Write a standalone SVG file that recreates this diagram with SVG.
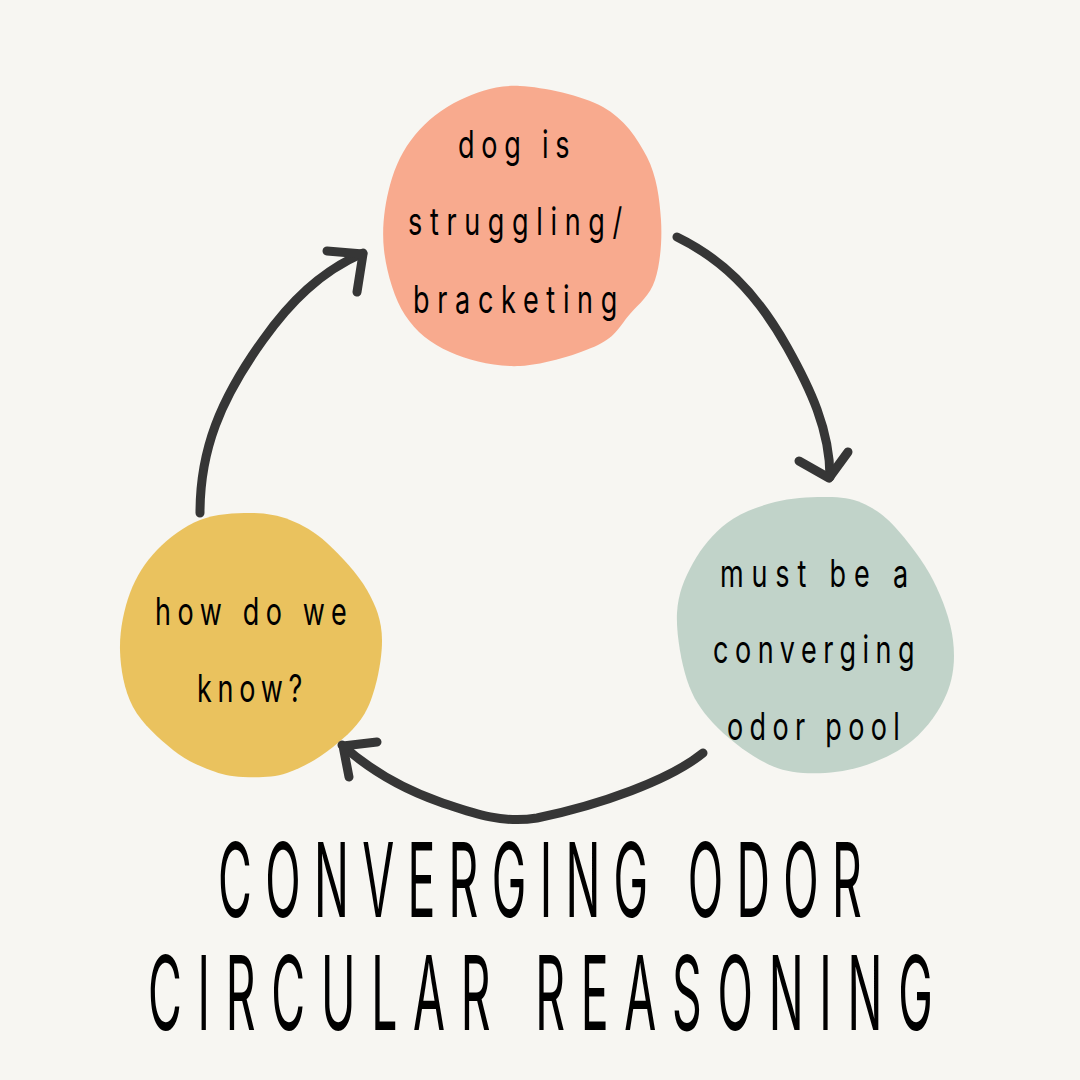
<svg xmlns="http://www.w3.org/2000/svg" width="1080" height="1080" viewBox="0 0 1080 1080">
<style>
.bg{fill:#F7F6F2}
.lbl{font-family:Inter,"Liberation Sans",sans-serif;font-size:30px;font-weight:400;fill:#000}
.title{font-family:Inter,"Liberation Sans",sans-serif;font-size:103px;font-weight:400;fill:#000}
.arr{fill:none;stroke:#363636;stroke-width:9;stroke-linecap:round;stroke-linejoin:round}
</style>
<rect class="bg" x="0" y="0" width="1080" height="1080"/>
<g id="node-top">
<path fill="#F8AA8E" d="M520,86 C543.8,87.2 581.8,95.2 603,107 C624.2,118.8 637.3,138.2 647,157 C656.7,175.8 659.7,199.5 661,220 C662.3,240.5 660.2,264.3 655,280 C649.8,295.7 639.5,303.2 630,314 C620.5,324.8 616.3,336.3 598,345 C579.7,353.7 544.7,364.8 520,366 C495.3,367.2 469.2,360.5 450,352 C430.8,343.5 416,332 405,315 C394,298 386.5,271.7 384,250 C381.5,228.3 384.8,204.2 390,185 C395.2,165.8 403.3,149.2 415,135 C426.7,120.8 442.5,108.2 460,100 C477.5,91.8 496.2,84.8 520,86 Z"/>
<text class="lbl" transform="translate(458,158) scale(0.9,1.25)" textLength="124" lengthAdjust="spacing">dog is</text>
<text class="lbl" transform="translate(408,235) scale(0.9,1.25)" textLength="238" lengthAdjust="spacing">struggling/</text>
<text class="lbl" transform="translate(413,313) scale(0.9,1.25)" textLength="227" lengthAdjust="spacing">bracketing</text>
</g>
<g id="node-right">
<path fill="#C1D3C9" d="M827,497 C841.5,497.2 850.7,498 862,503 C873.3,508 883.2,514.2 895,527 C906.8,539.8 923.3,561.2 933,580 C942.7,598.8 950.7,621.2 953,640 C955.3,658.8 953.7,676.3 947,693 C940.3,709.7 927.5,727.7 913,740 C898.5,752.3 878.3,761.5 860,767 C841.7,772.5 819.7,774.2 803,773 C786.3,771.8 775,768.3 760,760 C745,751.7 725.2,736.3 713,723 C700.8,709.7 693,698.3 687,680 C681,661.7 676,632.5 677,613 C678,593.5 684.7,578 693,563 C701.3,548 713.3,533.2 727,523 C740.7,512.8 758.3,506.3 775,502 C791.7,497.7 812.5,496.8 827,497 Z"/>
<text class="lbl" transform="translate(720,587) scale(0.9,1.25)" textLength="209" lengthAdjust="spacing">must be a</text>
<text class="lbl" transform="translate(713,663) scale(0.9,1.25)" textLength="224" lengthAdjust="spacing">converging</text>
<text class="lbl" transform="translate(727,740) scale(0.9,1.25)" textLength="192" lengthAdjust="spacing">odor pool</text>
</g>
<g id="node-left">
<path fill="#EAC25E" d="M250,513 C265,513 277.2,515 290,520 C302.8,525 314.2,531.3 327,543 C339.8,554.7 357.8,573.8 367,590 C376.2,606.2 381.8,620.5 382,640 C382.2,659.5 376.2,689.2 368,707 C359.8,724.8 346.5,736 333,747 C319.5,758 302,768 287,773 C272,778 255.8,777.5 243,777 C230.2,776.5 221.7,774.5 210,770 C198.3,765.5 185.8,760.5 173,750 C160.2,739.5 141.8,723.7 133,707 C124.2,690.3 120.5,669 120,650 C119.5,631 123.8,609.7 130,593 C136.2,576.3 145.3,562.2 157,550 C168.7,537.8 184.5,526.2 200,520 C215.5,513.8 235,513 250,513 Z"/>
<text class="lbl" transform="translate(155,625) scale(0.9,1.25)" textLength="213" lengthAdjust="spacing">how do we</text>
<text class="lbl" transform="translate(197,702) scale(0.9,1.25)" textLength="117" lengthAdjust="spacing">know?</text>
</g>
<g id="connectors">
<path class="arr" d="M677,237 C720,258 755,290 787,347 C810,388 830,430 830,477"/>
<path class="arr" d="M799,461 L829,478 L848,452"/>
<path class="arr" d="M703,753 C670,780 600,805 537,818 C500,824 470,812 440,802 C400,788 370,770 342,745"/>
<path class="arr" d="M377,742 L343,746 L349,777"/>
<path class="arr" d="M200,513 C200,450 220,400 263,340 C290,302 320,272 363,253"/>
<path class="arr" d="M327,251 L363,254 L357,292"/>
</g>
<g id="title">
<text class="title" transform="translate(218,917) scale(0.45,1)" textLength="1431" lengthAdjust="spacing">CONVERGING ODOR</text>
<text class="title" transform="translate(148,1030) scale(0.45,1)" textLength="1744" lengthAdjust="spacing">CIRCULAR REASONING</text>
</g>
</svg>
